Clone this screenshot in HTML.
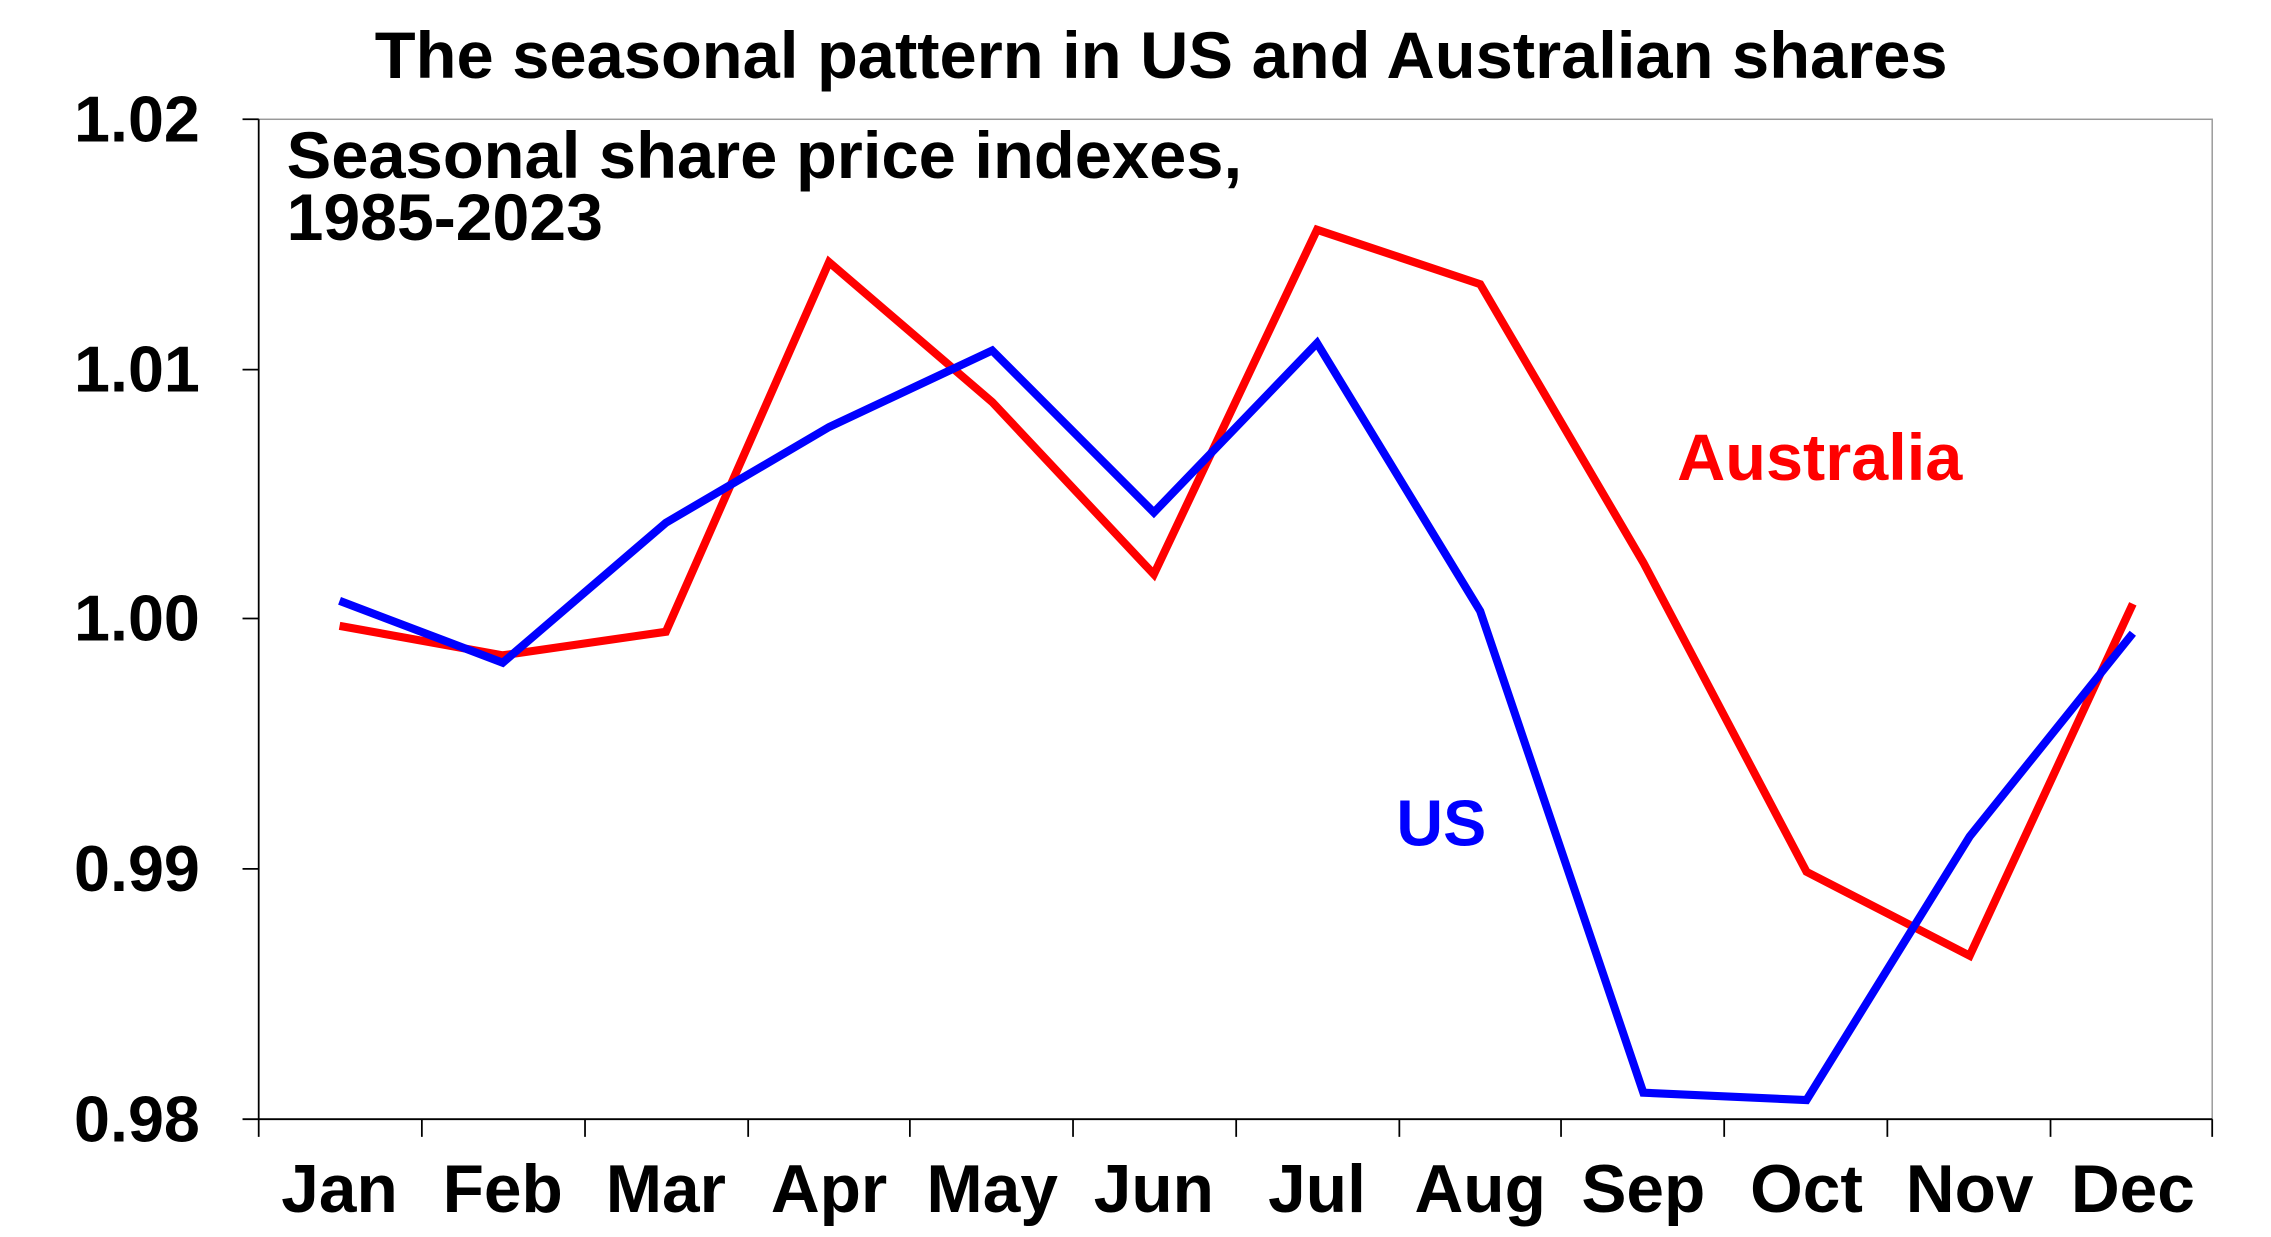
<!DOCTYPE html>
<html><head><style>html,body{margin:0;padding:0;background:#fff}svg{display:block}</style></head>
<body>
<svg width="2271" height="1237" viewBox="0 0 1545 840" preserveAspectRatio="none" xmlns="http://www.w3.org/2000/svg" font-family="Liberation Sans, Arial, sans-serif" font-weight="bold">
<rect x="176" y="81" width="1329" height="679" fill="none" stroke="#999" stroke-width="1"/>
<g stroke="#000" stroke-width="1.2">
<line x1="176" y1="81" x2="176" y2="772"/>
<line x1="165" y1="81" x2="176" y2="81"/><line x1="165" y1="251" x2="176" y2="251"/><line x1="165" y1="420" x2="176" y2="420"/><line x1="165" y1="590" x2="176" y2="590"/><line x1="165" y1="760" x2="1505" y2="760"/>
<line x1="287" y1="760" x2="287" y2="772"/><line x1="398" y1="760" x2="398" y2="772"/><line x1="509" y1="760" x2="509" y2="772"/><line x1="619" y1="760" x2="619" y2="772"/><line x1="730" y1="760" x2="730" y2="772"/><line x1="841" y1="760" x2="841" y2="772"/><line x1="952" y1="760" x2="952" y2="772"/><line x1="1062" y1="760" x2="1062" y2="772"/><line x1="1173" y1="760" x2="1173" y2="772"/><line x1="1284" y1="760" x2="1284" y2="772"/><line x1="1395" y1="760" x2="1395" y2="772"/><line x1="1505" y1="760" x2="1505" y2="772"/>
</g>
<text x="790" y="53" font-size="45" text-anchor="middle" textLength="1070" lengthAdjust="spacingAndGlyphs">The seasonal pattern in US and Australian shares</text>
<g font-size="44" text-anchor="end">
<text x="136" y="96">1.02</text><text x="136" y="266">1.01</text><text x="136" y="435">1.00</text><text x="136" y="605">0.99</text><text x="136" y="775">0.98</text>
</g>
<g font-size="46" text-anchor="middle">
<text x="231" y="823">Jan</text><text x="342" y="823">Feb</text><text x="453" y="823">Mar</text><text x="564" y="823">Apr</text><text x="675" y="823">May</text><text x="785" y="823">Jun</text><text x="896" y="823">Jul</text><text x="1007" y="823">Aug</text><text x="1118" y="823">Sep</text><text x="1229" y="823">Oct</text><text x="1340" y="823">Nov</text><text x="1451" y="823">Dec</text>
</g>
<text x="195" y="121" font-size="45" textLength="650" lengthAdjust="spacingAndGlyphs">Seasonal share price indexes,</text>
<text x="195" y="163" font-size="45">1985-2023</text>
<text x="1141" y="326" font-size="45" fill="#ff0000" textLength="194" lengthAdjust="spacingAndGlyphs">Australia</text>
<text x="950" y="574" font-size="44" fill="#0000ff">US</text>
<polyline fill="none" stroke="#ff0000" stroke-width="5.5" stroke-linejoin="miter" points="231,425 342,445 453,429 564,178 675,273 785,390 896,156 1007,193 1118,382 1229,592 1340,649 1451,410"/>
<polyline fill="none" stroke="#0000ff" stroke-width="5.5" stroke-linejoin="miter" points="231,408 342,450 453,355 564,290 675,238 785,348 896,233 1007,415 1118,742 1229,747 1340,568 1451,430"/>
</svg>
</body></html>
